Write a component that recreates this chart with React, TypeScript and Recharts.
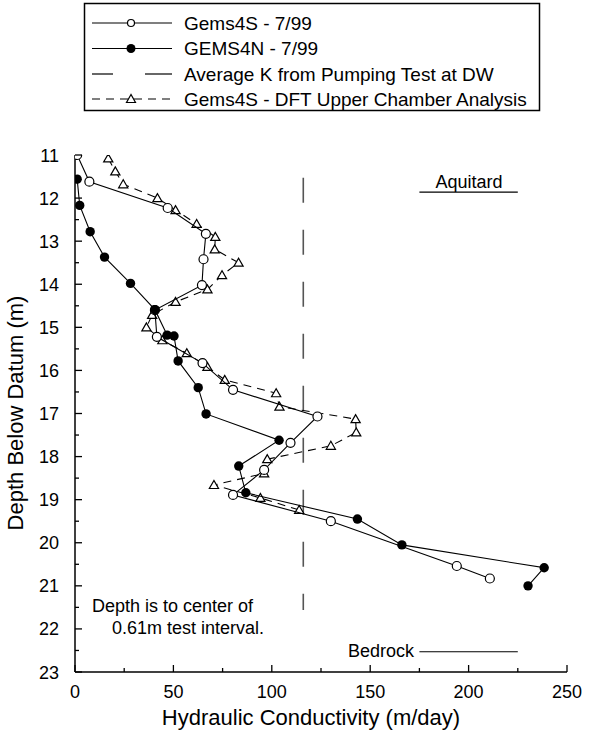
import React from "react";
import {
  ScatterChart,
  Scatter,
  XAxis,
  YAxis,
  ReferenceLine,
} from "recharts";

// Gems4S - 7/99 (open circles)
const gems4sK = [1.1, 7.3, 47.1, 66.5, 65.3, 64.5, 40.6, 41.6, 64.8, 80.3, 123.2, 109.5, 96.1, 80.3, 130.0, 194, 210.8];
const gems4sDepth = [11.0, 11.62, 12.23, 12.83, 13.42, 14.02, 14.6, 15.22, 15.83, 16.45, 17.07, 17.68, 18.31, 18.89, 19.5, 20.54, 20.83];

// GEMS4N - 7/99 (filled circles)
const gems4nK = [1.1, 2.4, 7.7, 15.0, 28.2, 40.6, 46.8, 50.3, 52.4, 62.6, 66.6, 103.7, 83.2, 86.8, 143.5, 166.1, 238.4, 230.2];
const gems4nDepth = [11.56, 12.17, 12.78, 13.37, 13.98, 14.59, 15.18, 15.2, 15.78, 16.4, 17.01, 17.62, 18.22, 18.84, 19.45, 20.05, 20.58, 21.0];

// Gems4S - DFT Upper Chamber Analysis (triangles)
const dftK = [16.9, 20.5, 24.5, 41.9, 51.1, 61.8, 71.3, 71.0, 83.1, 74.7, 67.3, 51.1, 39.2, 36.3, 44.4, 56.8, 67.3, 76.1, 102.2, 103.9, 142.6, 142.9, 130.0, 97.7, 96.1, 70.6, 94.2, 113.9];
const dftDepth = [11.08, 11.38, 11.68, 12.0, 12.28, 12.6, 12.9, 13.19, 13.5, 13.79, 14.12, 14.41, 14.71, 15.0, 15.3, 15.6, 15.92, 16.22, 16.53, 16.84, 17.13, 17.44, 17.75, 18.06, 18.39, 18.66, 18.96, 19.24];

// Average K from pumping test at DW, and the depth range it is drawn over
const avgK = 116;
const avgKDepth = [11.53, 21.56];

// layer markers
const aquitardK = [175, 225];
const aquitardDepth = 11.86;
const bedrockK = [175, 225];
const bedrockDepth = 22.53;

const xTicks = [0, 25, 50, 75, 100, 125, 150, 175, 200, 225, 250];
const yTicks = [11, 11.5, 12, 12.5, 13, 13.5, 14, 14.5, 15, 15.5, 16, 16.5, 17, 17.5, 18, 18.5, 19, 19.5, 20, 20.5, 21, 21.5, 22, 22.5, 23];

const FONT = "'Liberation Sans', Arial, Helvetica, sans-serif";

const toPoints = (ks: number[], ds: number[]) => ks.map((k, i) => ({ k, d: ds[i] }));

const OpenCircle = (p: any) => (
  <circle cx={p.cx} cy={p.cy} r={4.5} fill="#fff" stroke="#000" strokeWidth={1.2} />
);
const FilledCircle = (p: any) => <circle cx={p.cx} cy={p.cy} r={4.7} fill="#000" />;
const Triangle = (p: any) => (
  <polygon
    points={`${p.cx},${p.cy - 4.5} ${p.cx - 4.6},${p.cy + 3.5} ${p.cx + 4.6},${p.cy + 3.5}`}
    fill="#fff"
    stroke="#000"
    strokeWidth={1.2}
  />
);

const XTick = (p: any) => {
  const v = p.payload.value;
  const major = v % 50 === 0;
  return (
    <g>
      <line x1={p.x} x2={p.x} y1={p.y} y2={p.y - (major ? 7 : 4)} stroke="#000" strokeWidth={1.3} />
      {major && (
        <text x={p.x} y={p.y + 26} textAnchor="middle" fontSize={18} fontFamily={FONT} fill="#000">
          {v}
        </text>
      )}
    </g>
  );
};

const YTick = (p: any) => {
  const v = p.payload.value;
  const major = Number.isInteger(v);
  return (
    <g>
      <line x1={p.x} x2={p.x + (major ? 7 : 4)} y1={p.y} y2={p.y} stroke="#000" strokeWidth={1.3} />
      {major && (
        <text x={p.x - 16} y={p.y + 6.5} textAnchor="end" fontSize={18} fontFamily={FONT} fill="#000">
          {v}
        </text>
      )}
    </g>
  );
};

const legendRows = [
  { label: "Gems4S - 7/99", kind: "open" },
  { label: "GEMS4N - 7/99", kind: "filled" },
  { label: "Average K from Pumping Test at DW", kind: "avg" },
  { label: "Gems4S - DFT Upper Chamber Analysis", kind: "dft" },
];

function Overlay() {
  const rowY = [23, 48.5, 74, 99];
  return (
    <svg
      width={608}
      height={732}
      style={{ position: "absolute", left: 0, top: 0, pointerEvents: "none" }}
      fontFamily={FONT}
    >
      <rect x={84.5} y={3.5} width={455} height={107} fill="#fff" stroke="#000" strokeWidth={1.5} />
      {legendRows.map((r, i) => {
        const y = rowY[i];
        return (
          <g key={r.label}>
            {r.kind === "avg" ? (
              <g stroke="#000" strokeWidth={1.2}>
                <line x1={92} x2={113} y1={y} y2={y} />
                <line x1={145} x2={172} y1={y} y2={y} />
              </g>
            ) : (
              <line x1={92} x2={172} y1={y} y2={y} stroke="#000" strokeWidth={1.2} strokeDasharray={r.kind === "dft" ? "8 6" : undefined} />
            )}
            {r.kind === "open" && <circle cx={131} cy={y} r={3.5} fill="#fff" stroke="#000" strokeWidth={1.2} />}
            {r.kind === "filled" && <circle cx={131} cy={y} r={4.5} fill="#000" />}
            {r.kind === "dft" && (
              <polygon points={`131,${y - 4.5} 126.5,${y + 3.5} 135.5,${y + 3.5}`} fill="#fff" stroke="#000" strokeWidth={1.2} />
            )}
            <text x={184} y={y + 6.5} fontSize={19} fill="#000">
              {r.label}
            </text>
          </g>
        );
      })}

      <text x={469} y={188} textAnchor="middle" fontSize={18} fill="#000">Aquitard</text>
      <text x={414} y={657} textAnchor="end" fontSize={18} fill="#000">Bedrock</text>
      <text x={92} y={612} fontSize={18} fill="#000">Depth is to center of</text>
      <text x={112} y={634} fontSize={18} fill="#000">0.61m test interval.</text>

      <text x={311} y={725} textAnchor="middle" fontSize={22} fill="#000">
        Hydraulic Conductivity (m/day)
      </text>
      <text x={23} y={413} textAnchor="middle" fontSize={22} fill="#000" transform="rotate(-90 23 413)">
        Depth Below Datum (m)
      </text>
    </svg>
  );
}

export default function App() {
  return (
    <div style={{ position: "absolute", left: 0, top: 0, width: 608, height: 732, background: "#fff" }}>
      <ScatterChart width={608} height={732} margin={{ top: 155, right: 41, bottom: 0, left: 15 }}>
        <XAxis
          type="number"
          dataKey="k"
          domain={[0, 250]}
          ticks={xTicks}
          interval={0}
          tickSize={0}
          tickMargin={0}
          tick={<XTick />}
          tickLine={false}
          axisLine={{ stroke: "#000", strokeWidth: 1.5 }}
          height={60}
          allowDataOverflow
        />
        <YAxis
          type="number"
          dataKey="d"
          domain={[11, 23]}
          reversed
          ticks={yTicks}
          interval={0}
          tickSize={0}
          tickMargin={0}
          tick={<YTick />}
          tickLine={false}
          axisLine={{ stroke: "#000", strokeWidth: 1.5 }}
          width={60}
          allowDataOverflow
        />
        <ReferenceLine
          segment={[{ x: aquitardK[0], y: aquitardDepth }, { x: aquitardK[1], y: aquitardDepth }]}
          stroke="#000"
          strokeWidth={1.2}
          ifOverflow="visible"
        />
        <ReferenceLine
          segment={[{ x: bedrockK[0], y: bedrockDepth }, { x: bedrockK[1], y: bedrockDepth }]}
          stroke="#000"
          strokeWidth={1.2}
          ifOverflow="visible"
        />
        <ReferenceLine
          segment={[{ x: avgK, y: avgKDepth[0] }, { x: avgK, y: avgKDepth[1] }]}
          stroke="#555"
          strokeWidth={1.6}
          strokeDasharray="25 27"
          ifOverflow="visible"
        />
        <Scatter
          data={toPoints(dftK, dftDepth)}
          line={{ stroke: "#000", strokeWidth: 1.1, strokeDasharray: "8 6" }}
          lineType="joint"
          shape={<Triangle />}
          isAnimationActive={false}
        />
        <Scatter
          data={toPoints(gems4sK, gems4sDepth)}
          line={{ stroke: "#000", strokeWidth: 1.1 }}
          lineType="joint"
          shape={<OpenCircle />}
          isAnimationActive={false}
        />
        <Scatter
          data={toPoints(gems4nK, gems4nDepth)}
          line={{ stroke: "#000", strokeWidth: 1.1 }}
          lineType="joint"
          shape={<FilledCircle />}
          isAnimationActive={false}
        />
      </ScatterChart>
      <Overlay />
    </div>
  );
}
